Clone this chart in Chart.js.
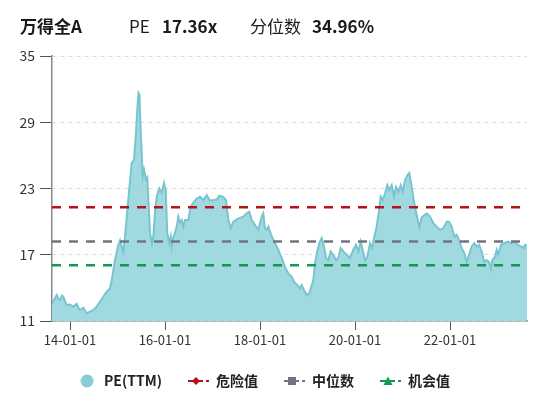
<!DOCTYPE html>
<html>
<head>
<meta charset="utf-8">
<script src="https://cdn.jsdelivr.net/npm/chart.js@4"></script>
<style>
  body { margin: 0; background: #fff; }
  #wrap { position: relative; width: 538px; height: 399px; }
  #head { position: absolute; left: 0; top: 16px; height: 20px; width: 538px;
          font-family: "Noto Sans CJK SC", "Noto Sans", sans-serif; font-size: 17px;
          line-height: 20px; color: #1a1a1a; }
  #head span { position: absolute; top: 0; white-space: nowrap; }
  #head b { font-weight: bold; }
</style>
</head>
<body>
<div id="wrap">
  <canvas id="peChart" width="538" height="399"></canvas>
  <div id="head">
    <span style="left:20px"><b>万得全A</b></span>
    <span style="left:129px">PE</span>
    <span style="left:162px"><b>17.36x</b></span>
    <span style="left:250px">分位数</span>
    <span style="left:312px"><b>34.96%</b></span>
  </div>
</div>
<script>
// dates as decimal years, PE(TTM)
const dates = [
  2013.621, 2013.663, 2013.720, 2013.758, 2013.789, 2013.832, 2013.859, 2013.895, 2013.931, 2014.000,
  2014.069, 2014.141, 2014.179, 2014.211, 2014.280, 2014.352, 2014.421, 2014.491, 2014.562, 2014.632,
  2014.701, 2014.773, 2014.842, 2014.878, 2014.947, 2015.017, 2015.053, 2015.122, 2015.158, 2015.227,
  2015.299, 2015.347, 2015.389, 2015.421, 2015.442, 2015.463, 2015.488, 2015.531, 2015.558, 2015.600,
  2015.627, 2015.657, 2015.684, 2015.726, 2015.754, 2015.789, 2015.825, 2015.880, 2015.931, 2015.979,
  2016.015, 2016.048, 2016.091, 2016.120, 2016.141, 2016.175, 2016.211, 2016.246, 2016.280, 2016.316,
  2016.352, 2016.385, 2016.421, 2016.491, 2016.541, 2016.596, 2016.667, 2016.737, 2016.806, 2016.878,
  2016.947, 2017.017, 2017.088, 2017.143, 2017.227, 2017.284, 2017.333, 2017.383, 2017.438, 2017.543,
  2017.648, 2017.720, 2017.775, 2017.825, 2017.895, 2017.964, 2018.036, 2018.069, 2018.105, 2018.141,
  2018.175, 2018.246, 2018.316, 2018.385, 2018.457, 2018.526, 2018.596, 2018.667, 2018.716, 2018.785,
  2018.842, 2018.878, 2018.926, 2018.983, 2019.038, 2019.088, 2019.122, 2019.158, 2019.194, 2019.248,
  2019.299, 2019.347, 2019.389, 2019.438, 2019.488, 2019.543, 2019.600, 2019.648, 2019.699, 2019.754,
  2019.825, 2019.895, 2019.964, 2020.021, 2020.070, 2020.120, 2020.162, 2020.211, 2020.259, 2020.316,
  2020.358, 2020.400, 2020.457, 2020.505, 2020.541, 2020.583, 2020.632, 2020.680, 2020.722, 2020.773,
  2020.821, 2020.863, 2020.912, 2020.962, 2021.004, 2021.053, 2021.101, 2021.143, 2021.194, 2021.242,
  2021.299, 2021.354, 2021.404, 2021.510, 2021.579, 2021.649, 2021.720, 2021.790, 2021.859, 2021.931,
  2021.979, 2022.036, 2022.091, 2022.141, 2022.189, 2022.246, 2022.301, 2022.352, 2022.400, 2022.457,
  2022.512, 2022.562, 2022.611, 2022.667, 2022.722, 2022.773, 2022.821, 2022.863, 2022.891, 2022.947,
  2022.983, 2023.017, 2023.074, 2023.143, 2023.215, 2023.284, 2023.354, 2023.425, 2023.495, 2023.543,
  2023.579, 2023.621
];
const peValues = [
  12.6, 12.9, 13.35, 13.0, 12.9, 13.3, 13.2, 12.8, 12.45, 12.5,
  12.3, 12.55, 12.2, 12.0, 12.2, 11.7, 11.85, 12.0, 12.3, 12.75,
  13.2, 13.65, 13.95, 14.7, 16.5, 17.9, 18.3, 17.2, 18.65, 22.0,
  25.3, 25.6, 28.0, 30.5, 31.65, 31.5, 28.3, 24.1, 24.7, 23.8,
  24.0, 21.35, 19.0, 18.05, 18.65, 20.8, 22.25, 23.0, 22.6, 23.5,
  22.9, 18.95, 18.05, 18.65, 17.75, 18.6, 19.0, 19.55, 20.45, 19.9,
  20.15, 19.55, 20.15, 20.15, 21.35, 21.7, 22.1, 22.25, 21.95, 22.4,
  21.9, 21.95, 22.0, 22.35, 22.25, 21.95, 20.15, 19.4, 20.0, 20.3,
  20.45, 20.75, 20.9, 20.15, 19.7, 19.25, 20.45, 20.75, 19.4, 19.25,
  19.55, 18.65, 18.05, 17.45, 16.7, 15.9, 15.3, 15.0, 14.55, 14.25,
  13.95, 14.25, 13.8, 13.35, 13.5, 14.2, 14.7, 16.2, 17.1, 18.05,
  18.5, 17.75, 16.7, 16.5, 17.3, 17.0, 16.5, 16.7, 17.6, 17.3,
  17.0, 16.7, 17.45, 17.9, 17.3, 18.2, 17.45, 16.5, 16.8, 18.05,
  17.6, 18.5, 19.55, 21.05, 22.25, 21.95, 22.55, 23.3, 22.85, 23.3,
  22.25, 23.15, 22.7, 23.3, 22.7, 23.75, 24.2, 24.4, 23.15, 21.8,
  20.6, 19.5, 20.4, 20.75, 20.45, 19.85, 19.55, 19.25, 19.4, 20.0,
  20.0, 19.55, 18.65, 18.8, 18.35, 17.6, 17.15, 16.35, 17.0, 17.75,
  18.05, 17.75, 17.9, 17.3, 16.35, 16.5, 16.35, 15.75, 16.5, 16.8,
  17.45, 17.0, 17.9, 18.05, 18.2, 18.05, 18.2, 17.9, 17.75, 17.6,
  17.9, 17.8
];
const refNames = ['危险值', '中位数', '机会值'];
const refValues = [21.3, 18.2, 16.05];
const tickYears = [2014, 2016, 2018, 2020, 2022];
const tickLabels = ['14-01-01', '16-01-01', '18-01-01', '20-01-01', '22-01-01'];

const refColors = ['#b8111b', '#6f7580', '#119a52'];
const refShapes = ['diamond', 'square', 'triangle'];
const FONT = '"Noto Sans CJK SC", "Noto Sans", sans-serif';

function lineIcon(color, shape) {
  const c = document.createElement('canvas');
  c.width = 22; c.height = 12;
  const g = c.getContext('2d');
  g.strokeStyle = color; g.fillStyle = color; g.lineWidth = 2;
  g.beginPath(); g.moveTo(0, 6); g.lineTo(15, 6); g.moveTo(18, 6); g.lineTo(21, 6); g.stroke();
  g.beginPath();
  if (shape === 'diamond') {
    g.moveTo(8, 2); g.lineTo(12, 6); g.lineTo(8, 10); g.lineTo(4, 6);
  } else if (shape === 'square') {
    g.rect(4, 2, 8, 8);
  } else {
    g.moveTo(8, 1.5); g.lineTo(12.5, 10); g.lineTo(3.5, 10);
  }
  g.closePath(); g.fill();
  return c;
}
function dotIcon(color) {
  const c = document.createElement('canvas');
  c.width = 14; c.height = 14;
  const g = c.getContext('2d');
  g.fillStyle = color;
  g.beginPath(); g.arc(7, 7, 6.5, 0, Math.PI * 2); g.fill();
  return c;
}
const icons = [dotIcon('#86cdd6')].concat(refColors.map((c, i) => lineIcon(c, refShapes[i])));

const xMin = dates[0], xMax = dates[dates.length - 1];
const datasets = [{
  label: 'PE(TTM)',
  data: dates.map((d, i) => ({ x: d, y: peValues[i] })),
  borderColor: '#78c5cf',
  backgroundColor: '#a0d9e0',
  borderWidth: 2,
  fill: 'start',
  pointRadius: 0,
  tension: 0,
  order: 1
}];
refValues.forEach((v, i) => {
  datasets.push({
    label: refNames[i],
    data: [{ x: xMin, y: v }, { x: xMax, y: v }],
    borderColor: refColors[i],
    backgroundColor: refColors[i],
    borderWidth: 2.3,
    borderDash: [9, 8],
    pointRadius: 0,
    fill: false,
    order: 0
  });
});

new Chart(document.getElementById('peChart'), {
  type: 'line',
  data: { datasets: datasets },
  options: {
    responsive: false,
    animation: false,
    devicePixelRatio: 1,
    layout: { padding: { top: 56, right: 11, bottom: 1, left: 0 } },
    plugins: {
      tooltip: { enabled: false },
      legend: {
        position: 'bottom',
        labels: {
          usePointStyle: true,
          pointStyleWidth: 20,
          boxHeight: 14,
          padding: 27,
          color: '#222',
          font: { family: FONT, size: 14, weight: 'bold' },
          generateLabels: function(chart) {
            const items = Chart.defaults.plugins.legend.labels.generateLabels(chart);
            items.sort((a, b) => a.datasetIndex - b.datasetIndex);
            items.forEach(it => { it.pointStyle = icons[it.datasetIndex]; });
            return items;
          }
        }
      }
    },
    scales: {
      x: {
        type: 'linear',
        min: xMin,
        max: xMax,
        afterFit: function(scale) { scale.height = 26; },
        afterBuildTicks: function(scale) { scale.ticks = tickYears.map(v => ({ value: v })); },
        grid: { drawOnChartArea: false, drawTicks: true, tickLength: 9, tickColor: '#555' },
        border: { color: '#888', width: 1.5 },
        ticks: {
          autoSkip: false, maxRotation: 0, padding: 2, color: '#333',
          font: { family: FONT, size: 13 },
          callback: function(v) { const i = tickYears.indexOf(v); return i >= 0 ? tickLabels[i] : ''; }
        }
      },
      y: {
        min: 11,
        max: 35,
        afterFit: function(scale) { scale.width = 52; },
        grid: { color: '#dcdcdc', lineWidth: 1, tickLength: 12, tickColor: '#555' },
        border: { color: '#888', width: 1.5, dash: [4, 4] },
        ticks: { stepSize: 6, padding: 5, color: '#333', font: { family: FONT, size: 14 } }
      }
    }
  }
});
</script>
</body>
</html>
